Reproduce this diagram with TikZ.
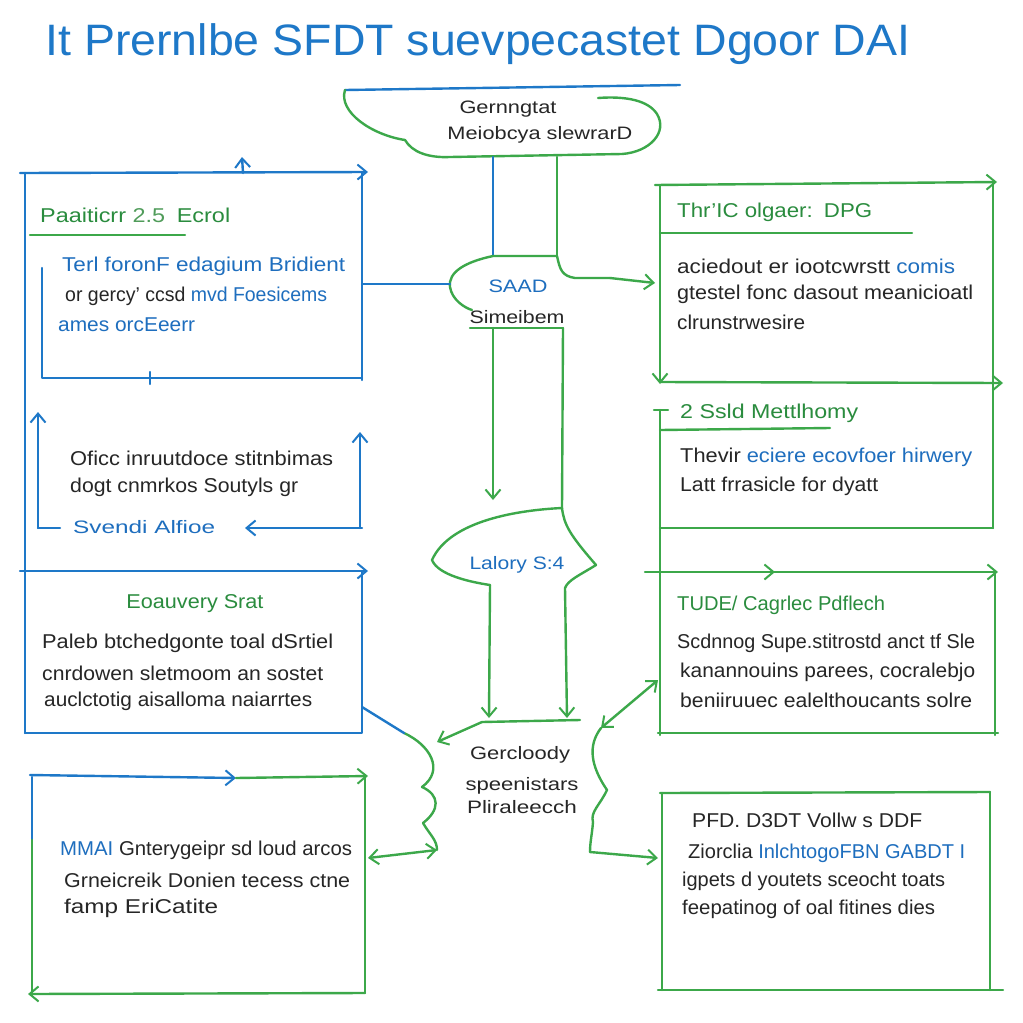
\documentclass[tikz,border=0pt]{standalone}
\usepackage{fontspec}
\usepackage{graphicx}
\setmainfont{Liberation Sans}
\usetikzlibrary{arrows.meta,calc}
\definecolor{inkblue}{RGB}{30,120,200}
\definecolor{inkgreen}{RGB}{60,168,74}
\definecolor{txtgreen}{RGB}{42,140,62}
\definecolor{txtdark}{RGB}{38,38,38}
\definecolor{txtblue}{RGB}{30,110,190}

% set a line of text to a given width (in pt), keeping its height
\newcommand\fw[2]{\resizebox{#1pt}{\height}{#2}}

\tikzset{
  bl/.style={draw=inkblue, line width=2.4pt, line cap=round, line join=round},
  gr/.style={draw=inkgreen, line width=2.4pt, line cap=round, line join=round},
  tip/.style={-{Straight Barb[length=9pt,width=15pt,line width=2pt]}},
  tipb/.style={{Straight Barb[length=9pt,width=15pt,line width=2pt]}-{Straight Barb[length=9pt,width=15pt,line width=2pt]}},
  txt/.style={anchor=west, inner sep=0pt, text=txtdark, font=\fontsize{20}{29}\selectfont},
  hd/.style={txt, text=txtgreen},
  bt/.style={txt, text=txtblue},
  ctr/.style={inner sep=0pt, text=txtdark, font=\fontsize{18}{27}\selectfont},
}

\begin{document}
\begin{tikzpicture}[x=1pt,y=-1pt]
\useasboundingbox[fill=white] (0,0) rectangle (1023,1023);

% ---------- title ----------
\node[inner sep=0pt, text=inkblue, font=\fontsize{44}{46}\selectfont] (title) at (478,44)
  {\fw{865}{It Prernlbe SFDT suevpecastet Dgoor DAI}};

% ---------- top cloud ----------
\coordinate (cl) at (345,90);
\coordinate (cr) at (680,85);
\draw[bl] (cl) -- (cr);
\draw[gr] (cl) .. controls (338,112) and (372,135) .. (405,140)
  .. controls (412,152) and (428,158) .. (450,157) -- (622,154)
  .. controls (650,152) and (668,132) .. (657,114)
  .. controls (648,100) and (625,96) .. (598,98);
\node[ctr] (cloudA) at (508,109) {\fw{97}{Gernngtat}};
\node[ctr] (cloudB) at (540,135) {\fw{185}{Meiobcya slewrarD}};

% ---------- SAAD blob ----------
\coordinate (sTopL) at (493,157);
\coordinate (sTopR) at (557,157);
\coordinate (sL) at (493,256);
\coordinate (sR) at (557,256);
\draw[bl] (sTopL) -- (sL);
\draw[gr] (sTopR) -- (sR);
\draw[gr] (sR) -- (sL) .. controls (465,262) and (448,272) .. (450,287)
  .. controls (452,300) and (465,308) .. (472,310);
\draw[gr] (sR) .. controls (560,270) and (562,276) .. (575,278) -- (610,278);
\node[ctr, text=txtblue] (saad) at (518,286) {\fw{59}{SAAD}};
\node[ctr] (simei) at (517,317) {\fw{95}{Simeibem}};
\coordinate (sbL) at (470,328);
\coordinate (sbR) at (563,328);
\draw[gr] (sbL) -- (sbR);

% ---------- Lalory blob ----------
\coordinate (lTop) at (562,508);
\draw[gr] (lTop) .. controls (520,510) and (450,520) .. (432,560)
  .. controls (438,575) and (470,582) .. (490,585);
\draw[gr] (lTop) .. controls (564,525) and (570,535) .. (596,565)
  .. controls (580,575) and (568,580) .. (565,588);
\node[ctr, text=txtblue] (lalory) at (517,565) {\fw{95}{Lalory S:4}};
\draw[gr, tip] (493,328) -- (493,500);
\draw[gr] (563,328) -- (lTop);

% ---------- lower centre ----------
\coordinate (jL) at (482,722);
\coordinate (jR) at (580,720);
\draw[gr, tip] (490,585) -- (489,718);
\draw[gr, tip] (565,588) -- (567,718);
\draw[gr] (jL) -- (jR);
\draw[gr, tip] (jL) -- (437,742);
\node[ctr] (gerc) at (520,755) {\fw{100}{Gercloody}};
\node[ctr] (speen) at (522,786) {\fw{113}{speenistars}};
\node[ctr] (plira) at (522,807) {\fw{110}{Pliraleecch}};

% left wavy connector
\coordinate (wL0) at (404,733);
\coordinate (wL1) at (437,850);
\draw[gr] (wL0) .. controls (430,745) and (445,770) .. (422,787)
  .. controls (440,795) and (440,810) .. (423,823)
  .. controls (430,835) and (437,840) .. (wL1);
\draw[gr, tipb] (368,858) -- (wL1);

% right wavy connector
\coordinate (wR0) at (601,728);
\coordinate (wR1) at (590,852);
\draw[gr] (wR0) .. controls (588,745) and (590,765) .. (607,790)
  .. controls (600,805) and (590,812) .. (593,822)
  .. controls (592,835) and (590,842) .. (wR1);
\draw[gr, tip] (wR1) -- (658,858);
\draw[gr, tipb] (wR0) -- (658,680);

% ---------- left column (blue) ----------
% box 1
\draw[bl, tip] (20,173) -- (368,172);
\draw[bl, tip] (243,173) -- (242,157);
\draw[bl] (25,173) -- (25,733);
\draw[bl] (362,173) -- (362,380);
\draw[bl] (42,268) -- (42,378) -- (362,378);
\draw[bl] (150,372) -- (150,384);
\draw[gr] (30,235) -- (185,235);
\draw[bl] (362,284) -- (450,284);
\node[hd] (a1h) at (40,215) {\fw{190}{Paaiticrr \textcolor{inkgreen!70!gray}{2.5}\enspace Ecrol}};
\node[bt] (a1a) at (62,266) {\fw{283}{Terl foronF edagium Bridient}};
\node[txt] (a1b) at (65,296) {\fw{262}{or gercy' ccsd \textcolor{txtblue}{mvd Foesicems}}};
\node[bt] (a1c) at (58,325) {\fw{137}{ames orcEeerr}};

% box 2
\draw[bl, tip] (38,528) -- (38,412);
\draw[bl] (38,528) -- (60,528);
\draw[bl, tip] (362,528) -- (245,528);
\draw[bl, tip] (360,528) -- (360,432);
\node[txt] (a2a) at (70,458) {\fw{263}{Oficc inruutdoce stitnbimas}};
\node[txt] (a2b) at (70,487) {\fw{228}{dogt cnmrkos Soutyls gr}};
\node[bt, font=\fontsize{18}{22}\selectfont] (a2c) at (73,527) {\fw{142}{Svendi Alfioe}};

% box 3
\draw[bl, tip] (20,571) -- (368,571);
\draw[bl] (362,571) -- (362,733) -- (25,733);
\draw[bl] (362,707) -- (wL0);
\node[hd, anchor=center] (a3h) at (195,604) {\fw{137}{Eoauvery Srat}};
\node[txt] (a3a) at (42,643) {\fw{291}{Paleb btchedgonte toal dSrtiel}};
\node[txt] (a3b) at (42,673) {\fw{281}{cnrdowen sletmoom an sostet}};
\node[txt] (a3c) at (44,701) {\fw{268}{auclctotig aisalloma naiarrtes}};

% box 4
\draw[bl, tip] (30,775) -- (236,778);
\draw[gr, tip] (236,778) -- (368,776);
\draw[bl] (32,777) -- (32,840);
\draw[gr] (32,840) -- (32,995);
\draw[gr, tip] (365,993) -- (28,994);
\draw[gr] (365,777) -- (365,993);
\node[txt] (a4a) at (60,850) {\fw{292}{\textcolor{txtblue}{MMAI} Gnterygeipr sd loud arcos}};
\node[txt] (a4b) at (64,880) {\fw{286}{Grneicreik Donien tecess ctne}};
\node[txt] (a4c) at (64,908) {\fw{154}{famp EriCatite}};

% ---------- right column (green) ----------
% box 1
\draw[gr, tip] (655,185) -- (997,182);
\draw[gr, tip] (660,185) -- (660,384);
\draw[gr, tip] (660,382) -- (1003,383);
\draw[gr] (993,183) -- (993,528);
\draw[gr] (660,233) -- (912,233);
\draw[gr, tip] (610,278) -- (655,283);
\node[hd] (b1h) at (677,212) {\fw{195}{Thr'IC olgaer:\enspace DPG}};
\node[txt] (b1a) at (677,266) {\fw{278}{aciedout er iootcwrstt \textcolor{txtblue}{comis}}};
\node[txt] (b1b) at (677,294) {\fw{296}{gtestel fonc dasout meanicioatl}};
\node[txt] (b1c) at (677,322) {\fw{128}{clrunstrwesire}};

% box 2
\draw[gr] (654,410) -- (668,410);
\draw[gr] (660,410) -- (660,735);
\draw[gr] (660,430) -- (830,428);
\draw[gr] (660,528) -- (993,528);
\node[hd] (b2h) at (680,413) {\fw{178}{2 Ssld Mettlhomy}};
\node[txt] (b2a) at (680,457) {\fw{292}{Thevir \textcolor{txtblue}{eciere ecovfoer hirwery}}};
\node[txt] (b2b) at (680,486) {\fw{198}{Latt frrasicle for dyatt}};

% box 3
\draw[gr, tip] (645,572) -- (775,572);
\draw[gr, tip] (770,572) -- (998,572);
\draw[gr] (995,572) -- (995,735);
\draw[gr] (658,733) -- (998,733);
\node[hd] (b3h) at (677,605) {\fw{208}{TUDE/ Cagrlec Pdflech}};
\node[txt] (b3a) at (677,643) {\fw{298}{Scdnnog Supe.stitrostd anct tf Sle}};
\node[txt] (b3b) at (680,672) {\fw{295}{kanannouins parees, cocralebjo}};
\node[txt] (b3c) at (680,700) {\fw{292}{beniiruuec ealelthoucants solre}};

% box 4
\draw[gr] (660,793) -- (990,792);
\draw[gr] (662,793) -- (662,990);
\draw[gr] (990,792) -- (990,990);
\draw[gr] (658,990) -- (1003,990);
\node[txt] (b4h) at (692,820) {\fw{230}{PFD. D3DT Vollw s DDF}};
\node[txt] (b4a) at (688,853) {\fw{277}{Ziorclia \textcolor{txtblue}{InlchtogoFBN GABDT I}}};
\node[txt] (b4b) at (682,881) {\fw{263}{igpets d youtets sceocht toats}};
\node[txt] (b4c) at (682,909) {\fw{253}{feepatinog of oal fitines dies}};
\end{tikzpicture}
\end{document}
